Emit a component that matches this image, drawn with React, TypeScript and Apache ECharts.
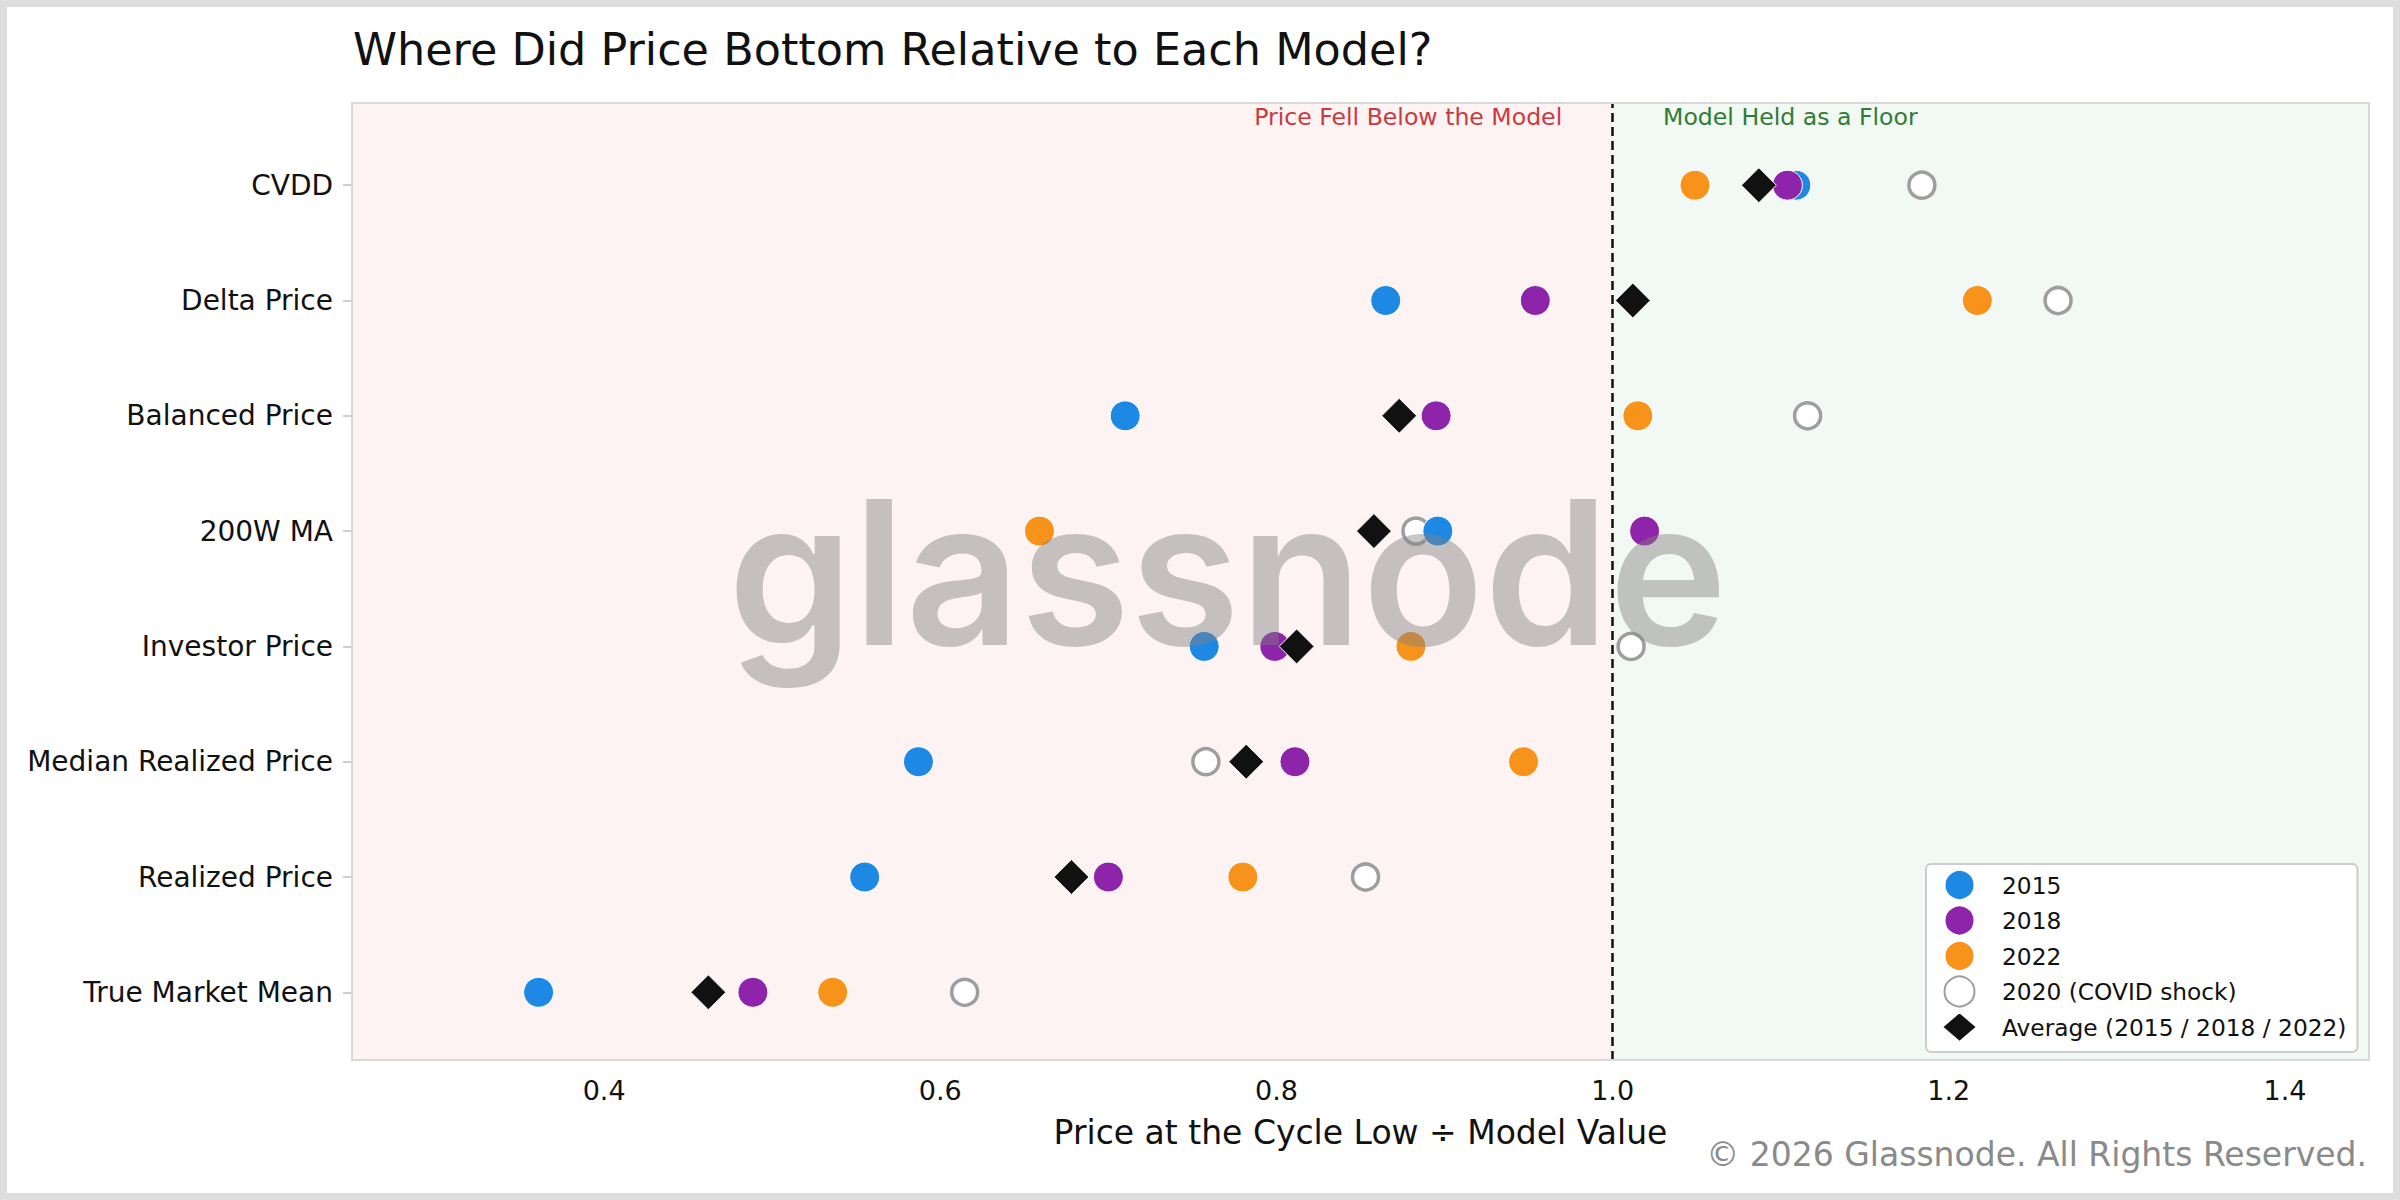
import React, { useEffect, useRef } from "react";
import * as echarts from "echarts";

// Models, listed top to bottom as they appear on the chart
const models = [
  "CVDD",
  "Delta Price",
  "Balanced Price",
  "200W MA",
  "Investor Price",
  "Median Realized Price",
  "Realized Price",
  "True Market Mean",
];

// Price at the cycle low / model value, same order as models
const v2015 = [1.109, 0.865, 0.71, 0.896, 0.757, 0.587, 0.555, 0.361];
const v2018 = [1.104, 0.954, 0.895, 1.019, 0.799, 0.811, 0.7, 0.4885];
const v2022 = [1.049, 1.217, 1.015, 0.659, 0.88, 0.947, 0.78, 0.536];
const v2020 = [1.184, 1.265, 1.116, 0.883, 1.011, 0.758, 0.853, 0.6145];
const vAvg = [1.087, 1.012, 0.873, 0.858, 0.812, 0.782, 0.678, 0.462];

const xTicks = [0.4, 0.6, 0.8, 1.0, 1.2, 1.4];
const yTicks = [0, 1, 2, 3, 4, 5, 6, 7];

const FONT = "DejaVu Sans";

const toPoints = (vals: number[]) =>
  vals.map((v, i) => [v, models.length - 1 - i]);

export default function App() {
  const ref = useRef<HTMLDivElement>(null);

  useEffect(() => {
    document.body.style.margin = "0";
    const el = ref.current!;
    const chart = echarts.init(el, null, { renderer: "svg" });

    const gridLeft = 352;
    const gridTop = 103;
    const gridRight = 31;
    const gridBottom = 140;

    const option: any = {
      animation: false,
      backgroundColor: "#ffffff",
      grid: { left: gridLeft, top: gridTop, right: gridRight, bottom: gridBottom },
      xAxis: {
        type: "value",
        min: 0.25,
        max: 1.45,
        axisLine: { show: false },
        splitLine: { show: false },
        axisTick: {
          show: true,
          customValues: xTicks,
          length: 9,
          lineStyle: { color: "#cfcfcf", width: 2 },
        },
        axisLabel: {
          customValues: xTicks,
          formatter: (v: number) => v.toFixed(1),
          fontFamily: FONT,
          fontSize: 27,
          color: "#111111",
          margin: 17,
        },
        name: "Price at the Cycle Low \u00f7 Model Value",
        nameLocation: "middle",
        nameGap: 56,
        nameTextStyle: { fontFamily: FONT, fontSize: 33, color: "#111111" },
      },
      yAxis: {
        type: "value",
        min: -0.587,
        max: 7.713,
        axisLine: { show: false },
        splitLine: { show: false },
        axisTick: {
          show: true,
          customValues: yTicks,
          length: 9,
          lineStyle: { color: "#cfcfcf", width: 2 },
        },
        axisLabel: {
          customValues: yTicks,
          formatter: (v: number) => models[models.length - 1 - Math.round(v)],
          fontFamily: FONT,
          fontSize: 28,
          color: "#111111",
          margin: 19,
        },
      },
      legend: {
        data: ["2015", "2018", "2022", "2020 (COVID shock)", "Average (2015 / 2018 / 2022)"],
        orient: "vertical",
        left: 1926,
        top: 864,
        padding: [5, 11, 9, 15],
        itemWidth: 35,
        itemHeight: 30,
        itemGap: 3.5,
        backgroundColor: "rgba(255,255,255,0.9)",
        borderColor: "#cccccc",
        borderWidth: 2,
        borderRadius: 5,
        textStyle: {
          fontFamily: FONT,
          fontSize: 23.3,
          lineHeight: 26,
          color: "#111111",
          padding: [0, 0, 0, 20],
        },
      },
      series: [
        {
          name: "bg",
          type: "scatter",
          data: [],
          z: 1,
          silent: true,
          markArea: {
            silent: true,
            data: [
              [{ xAxis: 0.25, itemStyle: { color: "#fdf3f3" } }, { xAxis: 1.0 }],
              [{ xAxis: 1.0, itemStyle: { color: "#f2f8f3" } }, { xAxis: 1.45 }],
            ],
          },
          markLine: {
            silent: true,
            symbol: "none",
            label: { show: false },
            lineStyle: { color: "#111111", type: [9, 5], width: 2.5 },
            data: [{ xAxis: 1.0 }],
          },
        },
        {
          name: "2020 (COVID shock)",
          type: "scatter",
          z: 3,
          symbol: "circle",
          symbolSize: 26,
          itemStyle: { color: "#ffffff", borderColor: "#9e9e9e", borderWidth: 3.5, opacity: 1 },
          data: toPoints(v2020),
        },
        {
          name: "2015",
          type: "scatter",
          z: 4,
          symbol: "circle",
          symbolSize: 30,
          itemStyle: { color: "#1e88e5", borderColor: "#ffffff", borderWidth: 1, opacity: 1 },
          data: toPoints(v2015),
        },
        {
          name: "2018",
          type: "scatter",
          z: 5,
          symbol: "circle",
          symbolSize: 30,
          itemStyle: { color: "#8e24aa", borderColor: "#ffffff", borderWidth: 1, opacity: 1 },
          data: toPoints(v2018),
        },
        {
          name: "2022",
          type: "scatter",
          z: 6,
          symbol: "circle",
          symbolSize: 30,
          itemStyle: { color: "#f7931a", borderColor: "#ffffff", borderWidth: 1, opacity: 1 },
          data: toPoints(v2022),
        },
        {
          name: "Average (2015 / 2018 / 2022)",
          type: "scatter",
          z: 7,
          symbol: "diamond",
          symbolSize: 35,
          itemStyle: { color: "#111111", borderColor: "#ffffff", borderWidth: 1, opacity: 1 },
          data: toPoints(vAvg),
        },
      ],
    };

    chart.setOption(option);

    const [xRed] = chart.convertToPixel({ gridIndex: 0 }, [1.0 - 0.03, 0]) as number[];
    const [xGreen] = chart.convertToPixel({ gridIndex: 0 }, [1.0 + 0.03, 0]) as number[];
    const [xMid, yMid] = chart.convertToPixel({ gridIndex: 0 }, [0.95, 3.5]) as number[];

    const W = 2400;
    const H = 1200;
    const plotW = W - gridLeft - gridRight;
    const plotH = H - gridTop - gridBottom;

    chart.setOption({
      graphic: [
        {
          type: "rect",
          z: 0,
          silent: true,
          shape: { x: 3.5, y: 3.5, width: W - 7, height: H - 7 },
          style: { fill: "none", stroke: "#dddddd", lineWidth: 7 },
        },
        {
          type: "text",
          z: 10,
          x: 353,
          y: 49,
          style: {
            text: "Where Did Price Bottom Relative to Each Model?",
            fontFamily: FONT,
            fontSize: 44.5,
            fill: "#111111",
            align: "left",
            verticalAlign: "middle",
          },
        },
        {
          type: "rect",
          z: 8,
          silent: true,
          shape: { x: gridLeft, y: gridTop, width: plotW, height: plotH },
          style: { fill: "none", stroke: "#d9d9d9", lineWidth: 2 },
        },
        {
          type: "text",
          z: 9,
          x: xRed,
          y: gridTop + 14,
          style: {
            text: "Price Fell Below the Model",
            fontFamily: FONT,
            fontSize: 23.6,
            fill: "#c93a40",
            align: "right",
            verticalAlign: "middle",
          },
        },
        {
          type: "text",
          z: 9,
          x: xGreen,
          y: gridTop + 14,
          style: {
            text: "Model Held as a Floor",
            fontFamily: FONT,
            fontSize: 23.6,
            fill: "#2e7d32",
            align: "left",
            verticalAlign: "middle",
          },
        },
        {
          type: "text",
          z: 20,
          silent: true,
          x: xMid - 301,
          y: yMid - 17,
          style: {
            text: "glassnode",
            fontFamily: "Inter",
            fontWeight: 600,
            fontSize: 200,
            fill: "rgba(128,128,128,0.45)",
            align: "center",
            verticalAlign: "middle",
          },
        },
        {
          type: "text",
          z: 10,
          x: 2367,
          y: 1154,
          style: {
            text: "\u00a9 2026 Glassnode. All Rights Reserved.",
            fontFamily: FONT,
            fontSize: 33,
            fill: "#8a8a8a",
            align: "right",
            verticalAlign: "middle",
          },
        },
      ],
    });

    return () => chart.dispose();
  }, []);

  return <div ref={ref} style={{ width: 2400, height: 1200 }} />;
}
